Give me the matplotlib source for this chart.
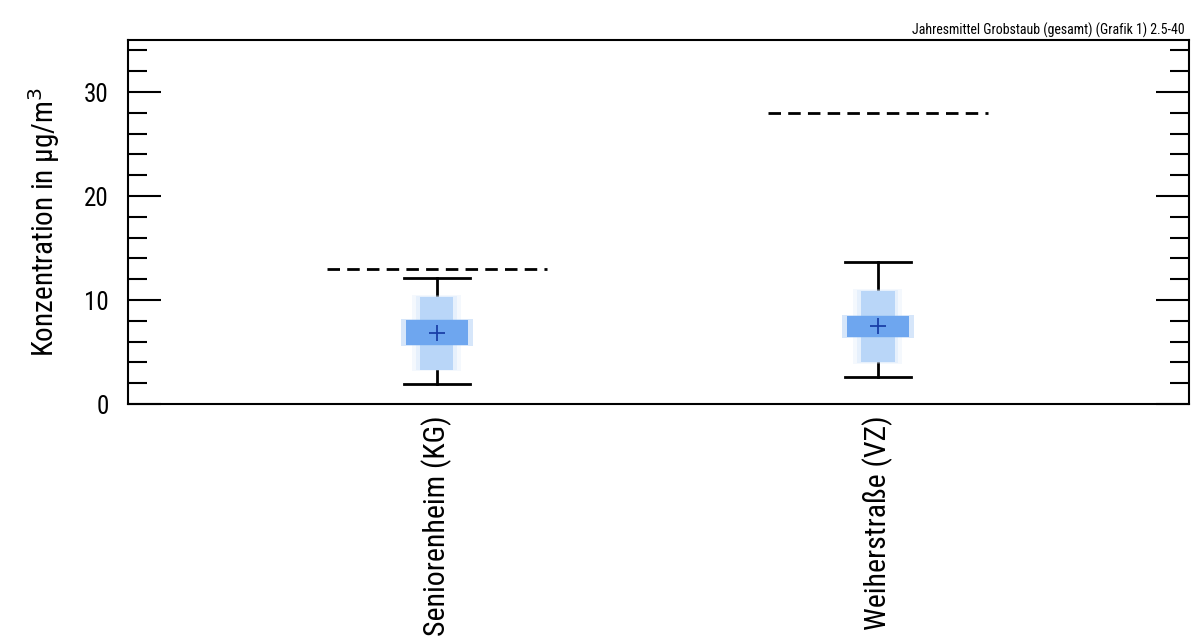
import matplotlib
matplotlib.use("Agg")
import matplotlib.pyplot as plt
from matplotlib import font_manager
from matplotlib.patches import Rectangle
from matplotlib.ticker import MultipleLocator

# Font: prefer a condensed sans face
names = {f.name for f in font_manager.fontManager.ttflist}
family = "DejaVu Sans"
for cand in ["Roboto Condensed", "Archivo Narrow", "Liberation Sans Narrow",
             "Open Sans Condensed", "Roboto"]:
    if cand in names:
        family = cand
        break
plt.rcParams["font.family"] = [family, "DejaVu Sans"]

# Data
stations = ["Seniorenheim (KG)", "Weiherstraße (VZ)"]
means = [6.8, 7.5]
whisker_low = [1.9, 2.6]
whisker_high = [12.1, 13.7]
box_q1 = [5.65, 6.4]
box_q3 = [8.05, 8.5]
outer_low = [3.3, 4.0]
outer_high = [10.3, 10.9]
limit_values = [13.0, 28.0]
title = "Jahresmittel Grobstaub (gesamt) (Grafik 1) 2.5-40"

fig = plt.figure(figsize=(11.91, 6.38), dpi=100)
ax = fig.add_axes([128 / 1191, 1 - 404 / 638, 1061 / 1191, 364 / 638])

wide_w = 0.14
narrow_w = 0.075
cap_w = 0.15
limit_w = 0.5

for i, name in enumerate(stations):
    x = i + 1
    # whisker and caps
    ax.plot([x, x], [whisker_low[i], whisker_high[i]], color="black", lw=2, zorder=2)
    ax.plot([x - cap_w / 2, x + cap_w / 2], [whisker_high[i]] * 2, color="black", lw=2, zorder=2)
    ax.plot([x - cap_w / 2, x + cap_w / 2], [whisker_low[i]] * 2, color="black", lw=2, zorder=2)
    # soft halo around the boxes
    for k, a in [(0.018, 0.25), (0.009, 0.45)]:
        ax.add_patch(Rectangle((x - narrow_w / 2 - k, outer_low[i] - k * 8), narrow_w + 2 * k,
                               outer_high[i] - outer_low[i] + k * 16,
                               color="#d6e7fb", alpha=a, lw=0, zorder=3))
    # outer (light) box
    ax.add_patch(Rectangle((x - narrow_w / 2, outer_low[i]), narrow_w, outer_high[i] - outer_low[i],
                           color="#b9d6f8", lw=0, zorder=3))
    # inner (dark) box
    ax.add_patch(Rectangle((x - wide_w / 2 - 0.012, box_q1[i] - 0.1), wide_w + 0.024,
                           box_q3[i] - box_q1[i] + 0.2,
                           color="#8bbaf2", alpha=0.35, lw=0, zorder=4))
    ax.add_patch(Rectangle((x - wide_w / 2, box_q1[i]), wide_w, box_q3[i] - box_q1[i],
                           color="#6ea6ef", lw=0, zorder=4))
    # mean marker
    ax.plot([x], [means[i]], marker="+", color="#1a3fa8", markersize=12, mew=1.3, zorder=5)
    # limit value
    ax.plot([x - limit_w / 2, x + limit_w / 2], [limit_values[i]] * 2, color="black",
            lw=2, dashes=(4.5, 2.6), zorder=2)

ax.set_xlim(0.3, 2.705)
ax.set_ylim(0, 35)
ax.set_xticks([1, 2])
ax.set_xticklabels(stations, rotation=90, fontsize=21.5)
ax.tick_params(axis="x", length=0, pad=8)
ax.yaxis.set_major_locator(MultipleLocator(10))
ax.yaxis.set_minor_locator(MultipleLocator(2))
ax.tick_params(axis="y", which="major", direction="in", length=24, width=1.5,
               labelsize=18, right=True, pad=14)
ax.tick_params(axis="y", which="minor", direction="in", length=14, width=1.5, right=True)
for s in ax.spines.values():
    s.set_linewidth(1.5)

ax.set_ylabel("Konzentration in µg/m$^3$", fontsize=21, labelpad=16)
fig.text(1185 / 1191, 1 - 30 / 638, title, ha="right", va="center", fontsize=10)

fig.savefig("out.png", dpi=100)
